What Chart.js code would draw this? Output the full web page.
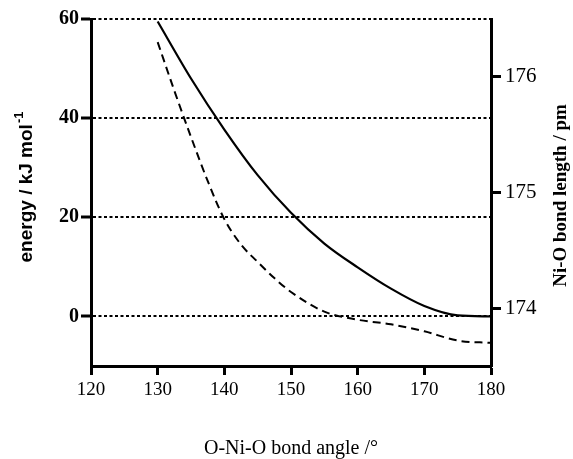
<!DOCTYPE html>
<html>
<head>
<meta charset="utf-8">
<script src="https://cdn.jsdelivr.net/npm/chart.js@4"></script>
<style>
    html, body { margin: 0; padding: 0; background: #fff; }
    #wrap { width: 573px; height: 459px; }
</style>
</head>
<body>
<div id="wrap"><canvas id="angle-chart" width="573" height="459"></canvas></div>
<script>
// values
const energyAngles = [130, 135, 140, 145, 150, 155, 160, 165, 170, 175, 180];
const energyValues = [59.5, 48.0, 37.7, 28.5, 20.9, 14.7, 9.9, 5.6, 2.1, 0.2, 0];

const lengthAngles = [130, 132.5, 135, 137.5, 140, 142.5, 145, 147.5, 150, 155, 160, 165, 170, 175, 180];
const lengthValues = [176.3, 175.88, 175.48, 175.1, 174.77, 174.55, 174.4, 174.26, 174.14, 173.97, 173.9, 173.86, 173.8, 173.72, 173.7];

const energyTicks = [0, 20, 40, 60];
const lengthTicks = [174, 175, 176];

const xTitle = 'O-Ni-O bond angle /\u00b0';
const leftTitle = 'energy / kJ mol';
const leftTitleSup = '-1';
const rightTitle = 'Ni-O bond length / pm';

const serif = '"Liberation Serif", "Times New Roman", serif';
const sans = '"Liberation Sans", Arial, sans-serif';

function toPoints(xs, ys) {
    return xs.map((x, i) => ({ x: x, y: ys[i] }));
}

// y axis titles drawn by hand (superscript on the left, bottom-to-top on the right)
const sideTitles = {
    id: 'sideTitles',
    afterDraw(chart) {
        const ctx = chart.ctx;
        const area = chart.chartArea;
        const midY = (area.top + area.bottom) / 2;

        ctx.save();
        ctx.fillStyle = '#000';
        ctx.textBaseline = 'middle';

        // left title
        ctx.save();
        ctx.translate(27, midY - 5);
        ctx.rotate(-Math.PI / 2);
        ctx.font = 'bold 19px ' + sans;
        const w1 = ctx.measureText(leftTitle).width;
        ctx.font = 'bold 13px ' + sans;
        const w2 = ctx.measureText(leftTitleSup).width;
        const start = -(w1 + w2) / 2;
        ctx.textAlign = 'left';
        ctx.font = 'bold 19px ' + sans;
        ctx.fillText(leftTitle, start, 0);
        ctx.font = 'bold 13px ' + sans;
        ctx.fillText(leftTitleSup, start + w1 + 1, -8);
        ctx.restore();

        // right title
        ctx.save();
        ctx.translate(561, midY + 3);
        ctx.rotate(-Math.PI / 2);
        ctx.textAlign = 'center';
        ctx.font = 'bold 19px ' + serif;
        ctx.fillText(rightTitle, 0, 0);
        ctx.restore();

        ctx.restore();
    }
};

const canvas = document.querySelector('#angle-chart');

new Chart(canvas.getContext('2d'), {
    type: 'scatter',
    data: {
        datasets: [
            {
                label: 'energy',
                data: toPoints(energyAngles, energyValues),
                yAxisID: 'y',
                showLine: true,
                borderColor: '#000',
                borderWidth: 2.2,
                pointRadius: 0,
                cubicInterpolationMode: 'monotone'
            },
            {
                label: 'Ni-O bond length',
                data: toPoints(lengthAngles, lengthValues),
                yAxisID: 'y2',
                showLine: true,
                borderColor: '#000',
                borderWidth: 2,
                borderDash: [8, 5],
                pointRadius: 0,
                cubicInterpolationMode: 'monotone'
            }
        ]
    },
    options: {
        responsive: false,
        animation: false,
        layout: { padding: { top: 19 } },
        plugins: {
            legend: { display: false },
            tooltip: { enabled: false }
        },
        scales: {
            x: {
                type: 'linear',
                min: 120,
                max: 180,
                afterFit: scale => { scale.height = 93; },
                ticks: {
                    stepSize: 10,
                    color: '#000',
                    padding: 4,
                    font: { family: serif, size: 19 }
                },
                grid: {
                    drawOnChartArea: false,
                    tickLength: 9,
                    tickWidth: 3,
                    tickColor: '#000'
                },
                border: { color: '#000', width: 3 },
                title: {
                    display: true,
                    text: xTitle,
                    color: '#000',
                    padding: { top: 0, bottom: -2 },
                    font: { family: serif, size: 20 }
                }
            },
            y: {
                position: 'left',
                min: -10,
                max: 60,
                afterFit: scale => { scale.width = 91; },
                afterBuildTicks: scale => { scale.ticks = energyTicks.map(v => ({ value: v })); },
                ticks: {
                    color: '#000',
                    padding: 2,
                    font: { family: serif, size: 20, weight: 'bold' }
                },
                grid: {
                    color: '#000',
                    lineWidth: 2,
                    tickLength: 10,
                    tickWidth: 3,
                    tickColor: '#000',
                    tickBorderDash: []
                },
                border: { color: '#000', width: 3, dash: [3, 2.5] }
            },
            y2: {
                position: 'right',
                min: 173.5,
                max: 176.5,
                afterFit: scale => { scale.width = 82; },
                afterBuildTicks: scale => { scale.ticks = lengthTicks.map(v => ({ value: v })); },
                ticks: {
                    color: '#000',
                    padding: 4,
                    font: { family: serif, size: 21 }
                },
                grid: {
                    drawOnChartArea: false,
                    tickLength: 10,
                    tickWidth: 3,
                    tickColor: '#000'
                },
                border: { color: '#000', width: 3 }
            }
        }
    },
    plugins: [sideTitles]
});
</script>
</body>
</html>
